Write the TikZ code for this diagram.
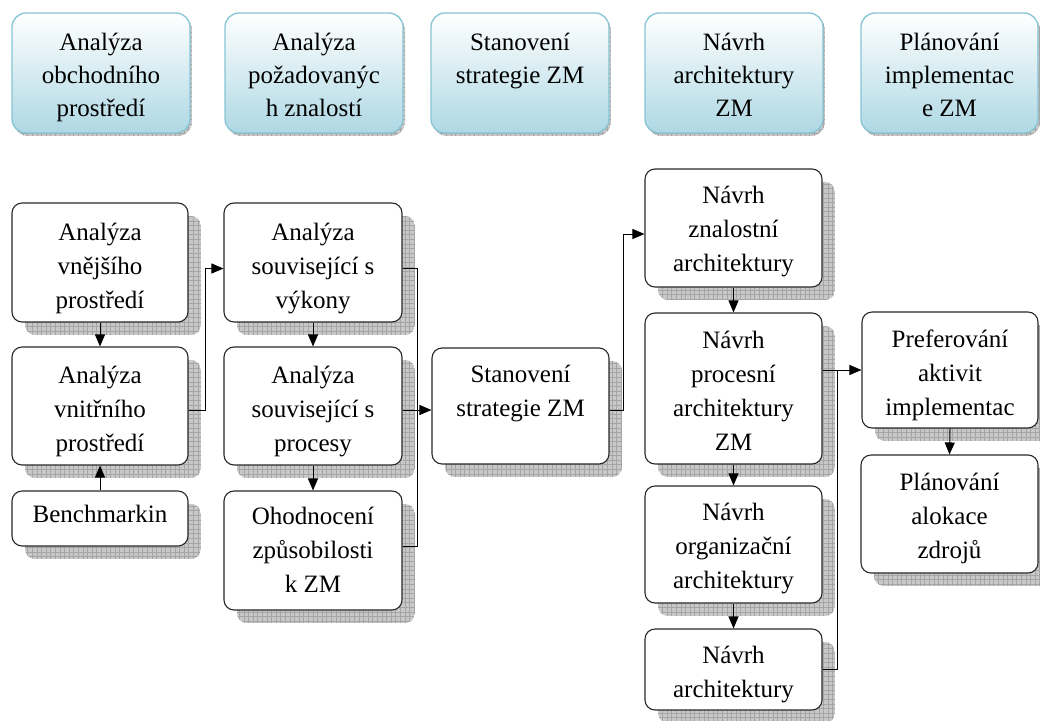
\documentclass[tikz,border=0pt]{standalone}
\usepackage{fontspec}
\setmainfont{Liberation Serif}
\usetikzlibrary{arrows.meta,calc}
\definecolor{hdbot}{RGB}{174,216,228}
\definecolor{hddraw}{RGB}{135,196,212}
\definecolor{shfill}{RGB}{200,200,200}
\definecolor{shline}{RGB}{165,165,165}
\definecolor{boxdraw}{RGB}{40,40,40}

\newcommand{\flowbox}[7]{%
  \begin{scope}
    \clip[rounded corners=10pt] (#2+13,#3+13) rectangle (#4+13,#5+13);
    \fill[shfill] (#2+13,#3+13) rectangle (#4+13,#5+13);
    \draw[shline,line width=0.45pt] (#2+13,#5+13) grid[step=4.6pt] (#4+13,#3+13);
  \end{scope}
  \node[mainbox, minimum width=#4-#2, minimum height=#5-#3] (#1) at ({(#2+#4)/2},{(#3+#5)/2}) {};
  \node[boxtext] at ({(#2+#4)/2},{#3+#6-23.8}) {\strut #7};
}
\newcommand{\hdrbox}[4]{%
  \begin{scope}
    \clip[rounded corners=14pt] (#2+2,16) rectangle (#3+2,136);
    \fill[shfill] (#2+2,16) rectangle (#3+2,136);
    \draw[shline,line width=0.45pt] (#2+2,136) grid[step=4.6pt] (#3+2,16);
  \end{scope}
  \node[hdr, minimum width=#3-#2, minimum height=120] (#1) at ({(#2+#3)/2},73) {};
  \node[hdrtext] at ({(#2+#3)/2},{50-23.1}) {\strut #4};
}

\begin{document}
\begin{tikzpicture}[x=1pt,y=-1pt,
  mainbox/.style={draw=boxdraw, line width=1.1pt, fill=white, rounded corners=10pt, inner sep=0pt},
  hdr/.style={draw=hddraw, line width=1.3pt, top color=white, bottom color=hdbot, rounded corners=14pt, inner sep=0pt},
  boxtext/.style={anchor=north, inner sep=0pt, align=center, font=\fontsize{25}{34}\selectfont},
  hdrtext/.style={anchor=north, inner sep=0pt, align=center, font=\fontsize{25}{33}\selectfont},
  conn/.style={draw=black, line width=1pt},
  arr/.style={conn, -{Triangle[length=12pt,width=10pt]}}]
\useasboundingbox (0,0) rectangle (1040,720);
\clip (0,0) rectangle (1040,720);

% headers
\hdrbox{H1}{12}{190}{Analýza\\obchodního\\prostředí}
\hdrbox{H2}{225}{403}{Analýza\\požadovanýc\\h znalostí}
\hdrbox{H3}{431}{609}{Stanovení\\strategie ZM}
\hdrbox{H4}{645}{823}{Návrh\\architektury\\ZM}
\hdrbox{H5}{861}{1038}{Plánování\\implementac\\e ZM}

% column 1
\flowbox{A1}{12}{203}{188}{322}{37}{Analýza\\vnějšího\\prostředí}
\flowbox{A2}{12}{347}{188}{465}{36}{Analýza\\vnitřního\\prostředí}
\flowbox{A3}{12}{491}{188}{546}{31}{Benchmarkin}
% column 2
\flowbox{B1}{224}{203}{402}{322}{37}{Analýza\\související s\\výkony}
\flowbox{B2}{224}{347}{402}{465}{36}{Analýza\\související s\\procesy}
\flowbox{B3}{224}{491}{402}{610}{33}{Ohodnocení\\způsobilosti\\k ZM}
% column 3
\flowbox{C}{432}{348}{609}{464}{34}{Stanovení\\strategie ZM}
% column 4
\flowbox{D1}{645}{169}{822}{287}{34}{Návrh\\znalostní\\architektury}
\flowbox{D2}{645}{313}{822}{464}{35}{Návrh\\procesní\\architektury\\ZM}
\flowbox{D3}{645}{486}{822}{603}{34}{Návrh\\organizační\\architektury}
\flowbox{D4}{645}{629}{822}{710}{34}{Návrh\\architektury}
% column 5
\flowbox{E1}{862}{312}{1038}{428}{35}{Preferování\\aktivit\\implementac}
\flowbox{E2}{861}{455}{1038}{573}{35}{Plánování\\alokace\\zdrojů}

% connectors
\draw[arr] (A1.south) -- (A2.north);
\draw[arr] (A3.north) -- (A2.south);
\draw[arr] ([yshift=-4pt]A2.east) -- ++(17,0) |- ([yshift=-6pt]B1.west);
\draw[arr] (B1.south) -- (B2.north);
\draw[arr] (B2.south) -- (B3.north);
\draw[conn] ([yshift=-6pt]B1.east) -- ++(15,0) |- ([yshift=4pt]B3.east);
\draw[arr] ([yshift=-4pt]B2.east) -- ([yshift=-4pt]C.west);
\draw[arr] ([yshift=-4pt]C.east) -- ++(14,0) |- ([yshift=-6pt]D1.west);
\draw[arr] (D1.south) -- (D2.north);
\draw[arr] (D2.south) -- (D3.north);
\draw[arr] (D3.south) -- (D4.north);
\coordinate (j5) at ($(D2.east |- E1.west)+(15,0)$);
\draw[arr] (D2.east |- E1.west) -- (E1.west);
\draw[conn] (D4.east) -| (j5);
\draw[arr] (E1.south) -- (E2.north);
\end{tikzpicture}
\end{document}
